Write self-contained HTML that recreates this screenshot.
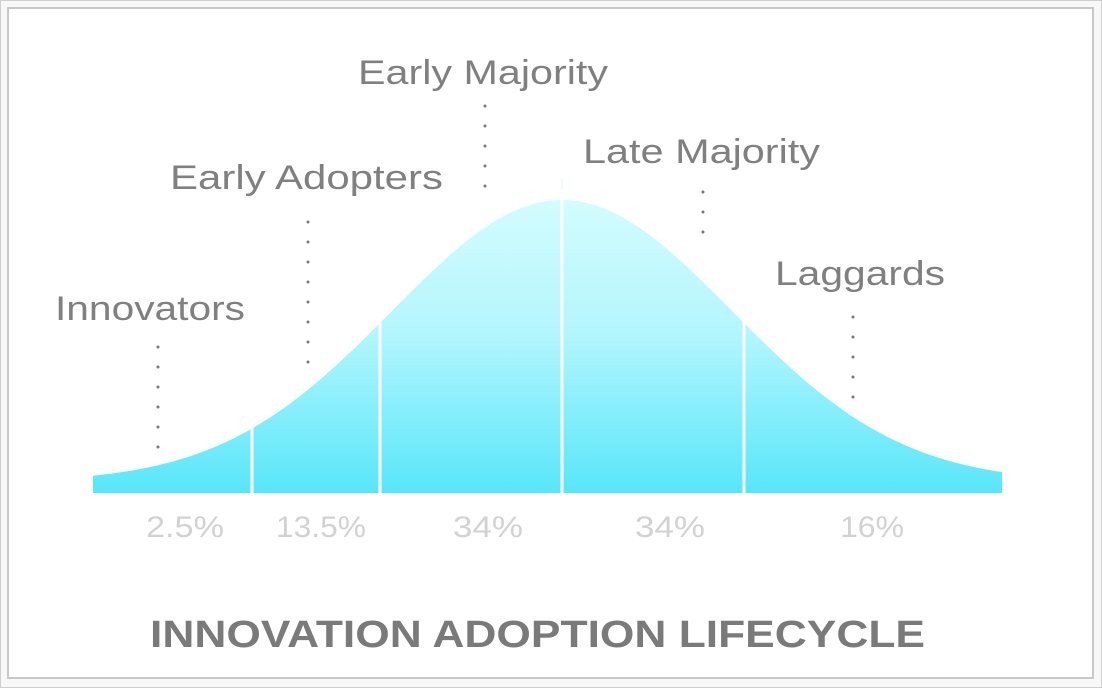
<!DOCTYPE html>
<html><head><meta charset="utf-8"><style>
html,body{margin:0;padding:0;background:#f8f8f8;}
svg{display:block;}
text{font-family:"Liberation Sans",sans-serif;}
</style></head><body>
<svg width="1102" height="688" viewBox="0 0 1102 688" xmlns="http://www.w3.org/2000/svg">
<defs>
<linearGradient id="g" x1="0" y1="200" x2="0" y2="493" gradientUnits="userSpaceOnUse">
<stop offset="0" stop-color="#d3fcfe"/>
<stop offset="0.45" stop-color="#b4f6fd"/>
<stop offset="1" stop-color="#58e6fa"/>
</linearGradient>
</defs>
<rect x="0.5" y="0.5" width="1101" height="687" fill="#f8f8f8" stroke="#cfcfcf"/>
<rect x="8" y="8" width="1085" height="670" fill="#fff" stroke="#c8c8c8" stroke-width="2"/>
<path id="bell" fill="url(#g)"/>
<line x1="562" y1="178" x2="562" y2="200" stroke="#eefcfe" stroke-width="2"/>
<g stroke="#fff" stroke-width="3">
<line x1="252" y1="300" x2="252" y2="495"/>
<line x1="380" y1="300" x2="380" y2="495"/>
<line x1="562" y1="190" x2="562" y2="495"/>
<line x1="744" y1="300" x2="744" y2="495"/>
</g>
<g fill="#808080">
<text x="358" y="84" font-size="34" textLength="250" lengthAdjust="spacingAndGlyphs">Early Majority</text>
<text x="170" y="189" font-size="34" textLength="273" lengthAdjust="spacingAndGlyphs">Early Adopters</text>
<text x="583" y="163" font-size="34" textLength="237" lengthAdjust="spacingAndGlyphs">Late Majority</text>
<text x="55" y="320" font-size="34" textLength="190" lengthAdjust="spacingAndGlyphs">Innovators</text>
<text x="775" y="285" font-size="34" textLength="170" lengthAdjust="spacingAndGlyphs">Laggards</text>
</g>
<g stroke="#777" stroke-width="3" stroke-dasharray="0 20" stroke-linecap="round">
<line x1="158" y1="347" x2="158" y2="452"/>
<line x1="308" y1="222" x2="308" y2="365"/>
<line x1="485" y1="106" x2="485" y2="190"/>
<line x1="703" y1="192" x2="703" y2="235"/>
<line x1="853" y1="317" x2="853" y2="400"/>
</g>
<g fill="#d2d2d2" font-size="30">
<text x="146" y="537" textLength="78" lengthAdjust="spacingAndGlyphs">2.5%</text>
<text x="276" y="537" textLength="90" lengthAdjust="spacingAndGlyphs">13.5%</text>
<text x="453" y="537" textLength="70" lengthAdjust="spacingAndGlyphs">34%</text>
<text x="635" y="537" textLength="70" lengthAdjust="spacingAndGlyphs">34%</text>
<text x="840" y="537" textLength="64" lengthAdjust="spacingAndGlyphs">16%</text>
</g>
<text x="150" y="647" font-size="38" font-weight="bold" fill="#7a7a7a" textLength="775" lengthAdjust="spacingAndGlyphs">INNOVATION ADOPTION LIFECYCLE</text>
</svg>
<script>
var d="M93 493 ";
for(var x=93;x<=1002;x+=3){var t=(x-562)/170;var y=482-282*Math.exp(-t*t/2);d+="L"+x+" "+y.toFixed(1)+" ";}
d+="L1002 493 Z";
document.getElementById("bell").setAttribute("d",d);
</script>
</body></html>
